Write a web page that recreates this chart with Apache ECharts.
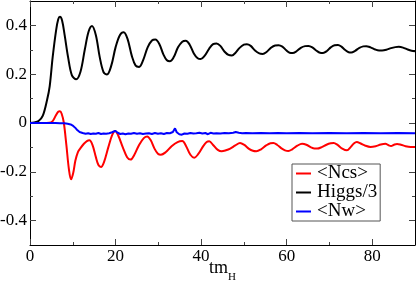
<!DOCTYPE html>
<html><head><meta charset="utf-8">
<script src="https://cdn.jsdelivr.net/npm/echarts@6/dist/echarts.min.js"></script>
<style>html,body{margin:0;padding:0;background:#fff}#c{width:416px;height:283px}</style>
</head><body><div id="c"></div>
<script>
var xMajor = [0, 20, 40, 60, 80];
var xMinor = [10, 30, 50, 70];
var yMajor = [-0.4, -0.2, 0, 0.2, 0.4];
var yMinor = [-0.3, -0.1, 0.1, 0.3];
var seriesNames = ['<Ncs>', 'Higgs/3', '<Nw>'];

var higgs = [[0,0],[1,0.002],[2,0.008],[3,0.03],[4,0.095],[4.6,0.15],[5.3,0.27],[6.1,0.38],[6.6,0.425],[7.0,0.435],[7.5,0.42],[8.1,0.36],[8.9,0.27],[9.8,0.195],[10.8,0.179],[11.8,0.21],[12.8,0.3],[13.7,0.375],[14.5,0.398],[15.4,0.36],[16.3,0.27],[17.2,0.208],[18.0,0.199],[19.0,0.235],[20.0,0.31],[21.0,0.36],[21.9,0.372],[22.8,0.345],[23.8,0.275],[24.7,0.235],[25.5,0.23],[26.5,0.26],[27.5,0.31],[28.5,0.338],[29.3,0.342],[30.2,0.325],[31.2,0.28],[32.0,0.257],[32.7,0.253],[33.6,0.27],[34.6,0.31],[35.6,0.333],[36.4,0.337],[37.3,0.322],[38.3,0.285],[39.2,0.265],[39.9,0.262],[40.8,0.275],[41.9,0.305],[42.8,0.323],[43.6,0.326],[44.5,0.316],[45.5,0.292],[46.4,0.279],[47.2,0.277],[48.0,0.287],[49.0,0.308],[50.0,0.321],[50.7,0.323],[51.6,0.316],[52.6,0.297],[53.6,0.285],[54.4,0.283],[55.3,0.291],[56.3,0.308],[57.3,0.318],[58.1,0.319],[59.0,0.313],[59.9,0.298],[60.7,0.288],[61.4,0.287],[62.3,0.294],[63.3,0.308],[64.3,0.315],[65.1,0.316],[66.0,0.31],[67.0,0.296],[67.8,0.288],[68.5,0.287],[69.4,0.295],[70.3,0.31],[71.2,0.319],[72.0,0.32],[72.8,0.313],[73.7,0.299],[74.5,0.29],[75.1,0.289],[76.0,0.296],[77.0,0.308],[77.9,0.314],[78.6,0.315],[79.6,0.31],[80.7,0.301],[81.6,0.297],[82.3,0.297],[83.3,0.3],[84.4,0.307],[85.4,0.311],[86.2,0.312],[87.2,0.309],[88.3,0.301],[89.2,0.296],[90,0.294]];

var ncs = [[0,0],[3,0],[4.5,0.001],[5.3,0.008],[6.0,0.03],[6.6,0.046],[7.0,0.048],[7.4,0.038],[7.9,0.002],[8.5,-0.09],[9.1,-0.19],[9.6,-0.231],[10.1,-0.205],[10.6,-0.155],[11.2,-0.119],[11.8,-0.103],[12.6,-0.085],[13.3,-0.074],[13.9,-0.071],[14.6,-0.09],[15.4,-0.14],[16.0,-0.172],[16.6,-0.18],[17.3,-0.16],[18.3,-0.1],[19.2,-0.05],[19.9,-0.033],[20.6,-0.05],[21.7,-0.1],[22.7,-0.14],[23.5,-0.15],[24.4,-0.13],[25.5,-0.09],[26.6,-0.062],[27.4,-0.055],[28.2,-0.07],[29.1,-0.105],[29.9,-0.126],[30.6,-0.13],[31.7,-0.12],[33.1,-0.095],[34.5,-0.078],[35.6,-0.074],[36.5,-0.095],[37.5,-0.13],[38.4,-0.142],[39.3,-0.128],[40.5,-0.095],[41.3,-0.078],[41.9,-0.075],[42.8,-0.09],[43.9,-0.11],[44.8,-0.116],[45.8,-0.112],[46.8,-0.105],[48.0,-0.092],[49.1,-0.082],[50.1,-0.09],[51.2,-0.106],[52.1,-0.114],[52.9,-0.116],[54.0,-0.108],[55.2,-0.092],[56.2,-0.083],[56.9,-0.082],[57.8,-0.09],[58.7,-0.103],[59.6,-0.112],[60.4,-0.115],[61.3,-0.108],[62.5,-0.093],[63.6,-0.085],[64.6,-0.089],[65.7,-0.1],[66.5,-0.105],[67.1,-0.105],[68.2,-0.099],[69.3,-0.089],[70.3,-0.083],[71.0,-0.082],[71.9,-0.09],[73.0,-0.105],[74.1,-0.112],[74.9,-0.1],[75.7,-0.084],[76.4,-0.078],[77.2,-0.083],[78.4,-0.093],[79.6,-0.098],[80.8,-0.095],[82.0,-0.088],[83.1,-0.085],[83.8,-0.091],[84.4,-0.094],[85.1,-0.089],[85.8,-0.086],[86.7,-0.089],[87.8,-0.095],[89,-0.098],[90,-0.098]];

var nw = [[0,0],[3,0],[6,0],[7,-0.001],[8,-0.001],[8.8,-0.003],[9.5,-0.006],[10.1,-0.012],[10.6,-0.02],[11.1,-0.03],[11.6,-0.037],[12.3,-0.041],[13.0,-0.044],[13.6,-0.042],[14.2,-0.045],[14.8,-0.043],[15.4,-0.044],[16.0,-0.041],[16.6,-0.045],[17.2,-0.043],[17.8,-0.044],[18.5,-0.042],[19.2,-0.038],[19.9,-0.032],[20.5,-0.04],[21.1,-0.045],[21.7,-0.043],[22.3,-0.046],[23.0,-0.043],[23.6,-0.044],[24.3,-0.041],[25.0,-0.044],[25.7,-0.042],[26.4,-0.045],[27.1,-0.043],[27.8,-0.042],[28.5,-0.045],[29.2,-0.041],[29.9,-0.044],[30.6,-0.042],[31.3,-0.045],[32.0,-0.041],[32.7,-0.042],[33.4,-0.037],[33.9,-0.022],[34.3,-0.038],[34.9,-0.046],[35.5,-0.048],[36.1,-0.043],[36.8,-0.044],[37.5,-0.041],[38.2,-0.043],[38.9,-0.042],[39.6,-0.04],[40.3,-0.043],[41.0,-0.041],[41.6,-0.046],[42.2,-0.04],[42.9,-0.043],[43.6,-0.042],[44.5,-0.043],[45.5,-0.041],[46.5,-0.042],[47.5,-0.04],[48.1,-0.037],[48.8,-0.04],[49.6,-0.042],[50.5,-0.041],[52,-0.042],[54,-0.041],[56,-0.042],[58,-0.041],[60,-0.042],[63,-0.041],[66,-0.042],[70,-0.041],[74,-0.042],[78,-0.041],[82,-0.042],[86,-0.041],[90,-0.042]];

var FONT = 'Liberation Serif';
var chart = echarts.init(document.getElementById('c'), null, {renderer: 'canvas'});

function xAx(pos, vals, len, labels, line, name) {
  var a = {
    type: 'value', position: pos, min: 0, max: 90,
    axisLine: {show: line, onZero: false, lineStyle: {color: '#000', width: 1}},
    axisTick: {show: true, inside: true, length: len, customValues: vals, lineStyle: {color: '#444', width: 1}},
    axisLabel: {show: labels, customValues: xMajor, color: '#000', fontFamily: FONT, fontSize: 17, margin: 3},
    splitLine: {show: false}
  };
  if (name) {
    a.name = '{a|tm}{b|H}';
    a.nameLocation = 'middle';
    a.nameGap = 14;
    a.nameMoveOverlap = false;
    a.nameTextStyle = {color: '#000', verticalAlign: 'top', rich: {
      a: {fontFamily: FONT, fontSize: 18, lineHeight: 18, verticalAlign: 'top', color: '#000'},
      b: {fontFamily: FONT, fontSize: 11, lineHeight: 11, verticalAlign: 'top', padding: [13, 0, 0, 0], color: '#000'}
    }};
  }
  return a;
}
function yAx(pos, vals, len, labels, line) {
  return {
    type: 'value', position: pos, min: -0.5, max: 0.5,
    axisLine: {show: line, onZero: false, lineStyle: {color: '#000', width: 1}},
    axisTick: {show: true, inside: true, length: len, customValues: vals, lineStyle: {color: '#444', width: 1}},
    axisLabel: {show: labels, customValues: yMajor, color: '#000', fontFamily: FONT, fontSize: 17, margin: 3,
      formatter: function (v) { return (Math.abs(v) < 1e-9) ? '0' : String(+v.toFixed(1)); }},
    splitLine: {show: false}
  };
}

chart.setOption({
  animation: false,
  backgroundColor: '#fff',
  grid: {left: 30, right: 1, top: 1, bottom: 38, containLabel: false, outerBoundsMode: 'none'},
  xAxis: [
    xAx('bottom', xMajor, 6, true, true, true),
    xAx('bottom', xMinor, 3, false, false, false),
    xAx('top', xMajor, 6, false, true, false),
    xAx('top', xMinor, 3, false, false, false)
  ],
  yAxis: [
    yAx('left', yMajor, 6, true, true),
    yAx('left', yMinor, 3, false, false),
    yAx('right', yMajor, 6, false, true),
    yAx('right', yMinor, 3, false, false)
  ],
  legend: {
    orient: 'vertical', left: 292, top: 164,
    data: seriesNames,
    icon: 'rect', itemWidth: 15, itemHeight: 2, itemGap: 0,
    padding: [0, 3, 0, 4],
    backgroundColor: '#fff', borderColor: '#555', borderWidth: 1, borderRadius: 0,
    textStyle: {fontFamily: FONT, fontSize: 19, lineHeight: 19, color: '#000', padding: [0, 0, 0, 1]}
  },
  series: [
    {name: seriesNames[0], type: 'line', data: ncs, smooth: 0.35, symbol: 'none', lineStyle: {color: '#ff0000', width: 2}, itemStyle: {color: '#ff0000'}, z: 3},
    {name: seriesNames[1], type: 'line', data: higgs, smooth: 0.35, symbol: 'none', lineStyle: {color: '#000000', width: 2}, itemStyle: {color: '#000000'}, z: 2},
    {name: seriesNames[2], type: 'line', data: nw, smooth: false, symbol: 'none', lineStyle: {color: '#0000ff', width: 2}, itemStyle: {color: '#0000ff'}, z: 4}
  ]
});
</script></body></html>
